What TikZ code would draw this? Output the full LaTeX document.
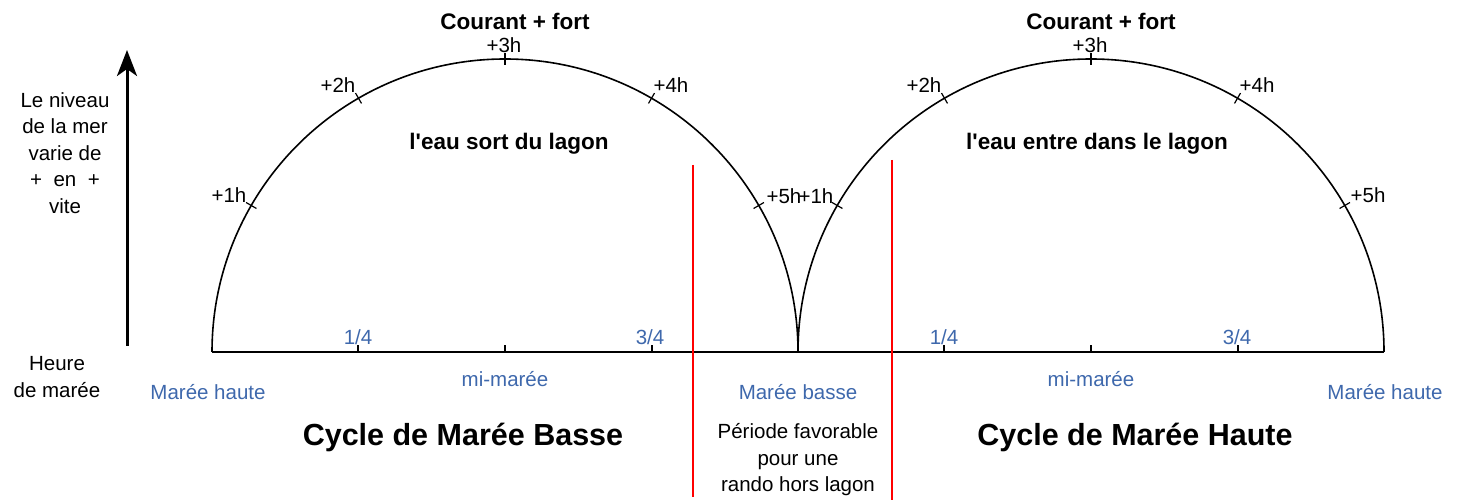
\documentclass[tikz,border=0pt]{standalone}
\usepackage{fontspec}
\setmainfont{Liberation Sans}
\usetikzlibrary{arrows.meta,calc}
\definecolor{tideblue}{RGB}{62,104,172}
\begin{document}
\begin{tikzpicture}[x=1pt,y=1pt,
 lbl/.style={inner sep=0pt, font=\fontsize{20.5}{26.5}\selectfont, align=center},
 blbl/.style={lbl, text=tideblue},
 boldlbl/.style={inner sep=0pt, font=\fontsize{22.5}{27}\selectfont\bfseries},
 titlelbl/.style={inner sep=0pt, font=\fontsize{30.5}{34}\selectfont\bfseries},
 arcline/.style={line width=1.6pt},
 tickmark/.style={line width=1.2pt},
 redline/.style={red, line width=1.4pt}]
\useasboundingbox (0,0) rectangle (1463,503);
\coordinate (cL) at (505,151);
\coordinate (cR) at (1091,151);
\coordinate (bL) at (212,151);
\coordinate (bM) at (798,151);
\coordinate (bR) at (1384,151);
% axis and arcs
\draw[arcline] (bL) -- (bR);
\draw[arcline] (bL) arc[start angle=180,end angle=0,radius=293];
\draw[arcline] (bM) arc[start angle=180,end angle=0,radius=293];
\foreach \c in {cL,cR}{
  \foreach \a in {30,60,90,120,150}{
    \draw[tickmark] ($(\c)+(\a:287)$) -- ($(\c)+(\a:299)$);
  }
  \foreach \dx in {-147,0,147}{
    \draw[tickmark] ($(\c)+(\dx,0)$) -- ++(0,7);
  }
}
% vertical arrow
\coordinate (arrS) at (127,157);
\coordinate (arrE) at (127,453);
\draw[line width=3pt,-{Stealth[length=26pt,width=20pt,inset=7pt]}] (arrS) -- (arrE);
% red lines
\coordinate (r1a) at (693,338);
\coordinate (r1b) at (693,6);
\coordinate (r2a) at (892,343);
\coordinate (r2b) at (892,3);
\draw[redline] (r1a) -- (r1b);
\draw[redline] (r2a) -- (r2b);
% top labels
\node[boldlbl] (cfL) at (515,482) {Courant + fort};
\node[boldlbl] (cfR) at (1101,482) {Courant + fort};
\node[boldlbl] (eauL) at (509,359) {l\textquotesingle eau sort du lagon};
\node[boldlbl] (eauR) at (1097,359) {l\textquotesingle eau entre dans le lagon};
% hour labels
\node[lbl] (h3L) at (504,458) {+3h};
\node[lbl] (h3R) at (1090,458) {+3h};
\node[lbl] (h2L) at (338,418) {+2h};
\node[lbl] (h2R) at (924,418) {+2h};
\node[lbl] (h4L) at (671,418) {+4h};
\node[lbl] (h4R) at (1257,418) {+4h};
\node[lbl] (h1L) at (229,308) {+1h};
\node[lbl] (h5L) at (784,307) {+5h};
\node[lbl] (h1R) at (816,307) {+1h};
\node[lbl] (h5R) at (1368,308) {+5h};
% baseline labels
\node[blbl] (q1L) at (358,166) {1/4};
\node[blbl] (q3L) at (650,166) {3/4};
\node[blbl] (q1R) at (944,166) {1/4};
\node[blbl] (q3R) at (1237,166) {3/4};
\node[blbl] (mhL) at (208,111) {Marée haute};
\node[blbl] (mmL) at (505,124) {mi-marée};
\node[blbl] (mb) at (798,111) {Marée basse};
\node[blbl] (mmR) at (1091,124) {mi-marée};
\node[blbl] (mhR) at (1385,111) {Marée haute};
% titles
\node[titlelbl] (cycB) at (463,66) {Cycle de Marée Basse};
\node[titlelbl] (cycH) at (1135,66) {Cycle de Marée Haute};
\node[lbl] (periode) at (798,43) {Période favorable\\pour une\\rando hors lagon};
% left texts
\node[lbl] (niveau) at (65,350) {Le niveau\\de la mer\\varie de\\+~~en~~+\\vite};
\node[lbl] (heure) at (57,126) {Heure\\de marée};
\end{tikzpicture}
\end{document}
